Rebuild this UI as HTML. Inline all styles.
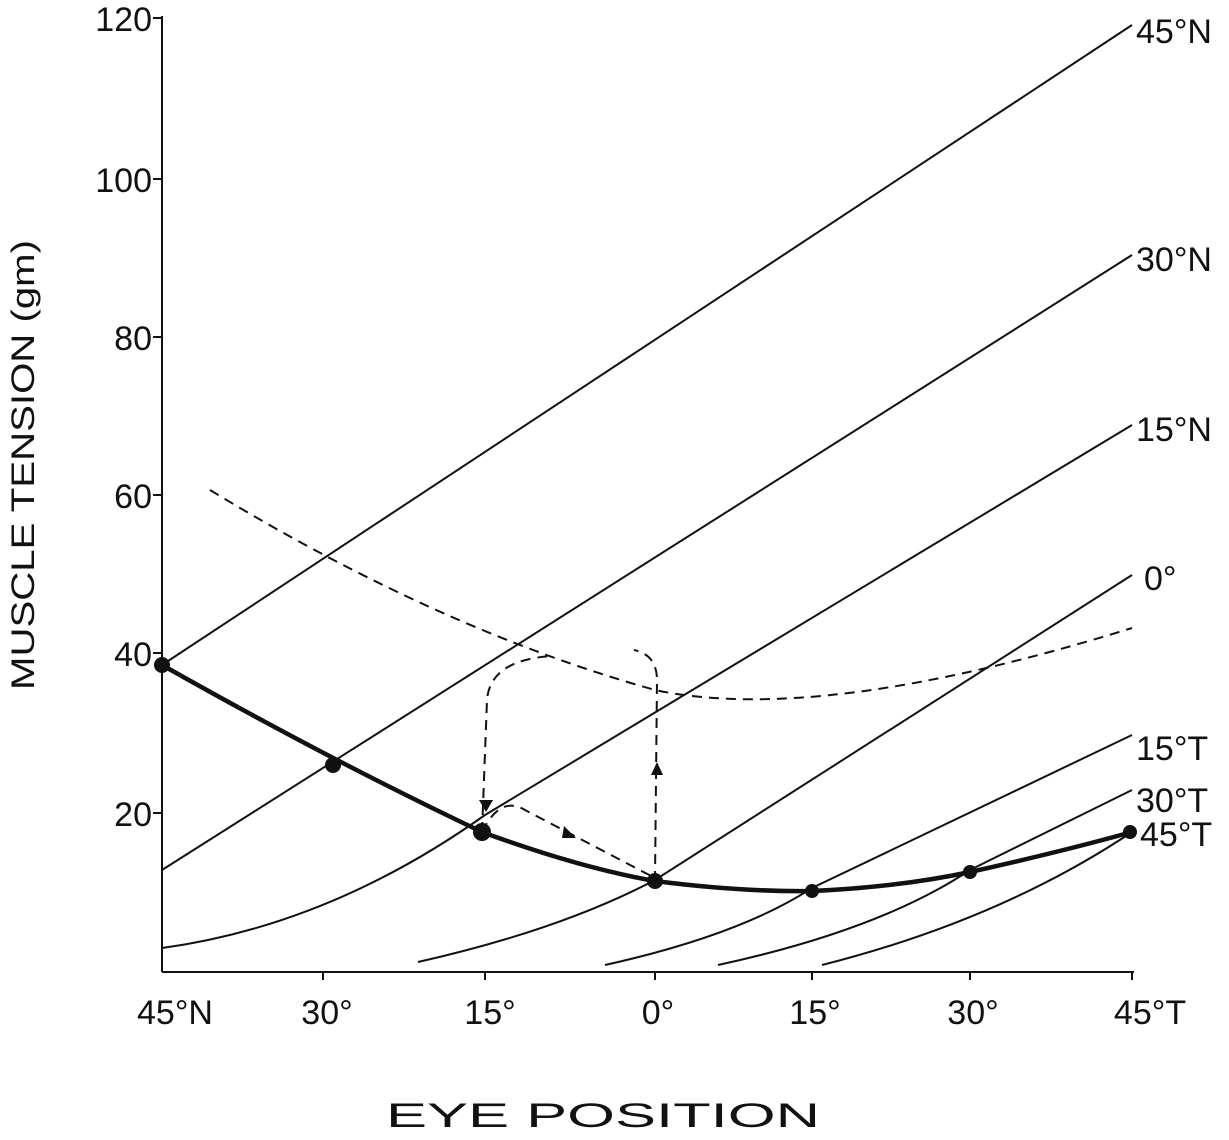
<!DOCTYPE html>
<html><head><style>body{margin:0;background:#fff}svg text{font-family:"Liberation Sans",sans-serif;fill:#111}</style></head>
<body>
<svg width="1229" height="1135" viewBox="0 0 1229 1135" xmlns="http://www.w3.org/2000/svg">
<g stroke="#111" fill="none" stroke-width="2">
<line x1="162" y1="16" x2="162" y2="972"/>
<line x1="162" y1="972" x2="1134" y2="972"/>
<g stroke-width="2">
<line x1="153" y1="18" x2="162" y2="18"/><line x1="153" y1="179" x2="162" y2="179"/><line x1="153" y1="337" x2="162" y2="337"/><line x1="153" y1="495" x2="162" y2="495"/><line x1="153" y1="653" x2="162" y2="653"/><line x1="153" y1="813" x2="162" y2="813"/>
<line x1="323" y1="972" x2="323" y2="980"/><line x1="485" y1="972" x2="485" y2="980"/><line x1="655" y1="972" x2="655" y2="980"/><line x1="812" y1="972" x2="812" y2="980"/><line x1="970" y1="972" x2="970" y2="980"/><line x1="1132" y1="972" x2="1132" y2="980"/>
</g>
<line x1="162" y1="665" x2="1132" y2="25"/>
<line x1="162" y1="870" x2="1132" y2="255"/>
<path d="M162 948 Q330 925 485 815 L1132 425"/>
<path d="M418 962 Q560 930 655 880 L1132 575"/>
<path d="M605 965 Q740 935 812 888 L1132 735"/>
<path d="M718 965 Q880 930 970 870 L1132 790"/>
<path d="M822 965 Q1000 920 1132 832"/>
<path d="M162 665 Q330 760 482 832 Q580 868 655 881 Q740 892 812 891 Q900 887 970 872 Q1060 852 1132 832" stroke-width="4.5"/>
<g stroke-dasharray="10,7">
<path d="M210 490 Q440 630 655 690 Q820 725 1132 628"/>
<path d="M482 832 L487 700 Q490 660 552 656"/>
<path d="M655 881 L657 680 Q657 655 634 650"/>
<path d="M482 832 Q500 795 525 810 L655 878"/>
</g>
</g>
<g fill="#111">
<circle cx="162" cy="665" r="8"/><circle cx="333" cy="765" r="8"/><circle cx="482" cy="832" r="9"/><circle cx="655" cy="881" r="8"/><circle cx="812" cy="891" r="7"/><circle cx="970" cy="872" r="7"/><circle cx="1130" cy="832" r="7"/>
<polygon points="479,800 493,800 486,812"/><polygon points="651,775 663,775 657,762"/><polygon points="564,826 576,838 562,838"/>
</g>
<g font-size="34" text-anchor="end">
<text x="152" y="31">120</text><text x="152" y="192">100</text><text x="152" y="350">80</text><text x="152" y="508">60</text><text x="152" y="666">40</text><text x="152" y="826">20</text>
</g>
<g font-size="34" text-anchor="middle">
<text x="175" y="1024">45°N</text><text x="327" y="1024">30°</text><text x="490" y="1024">15°</text><text x="658" y="1024">0°</text><text x="815" y="1024">15°</text><text x="973" y="1024">30°</text><text x="1150" y="1024">45°T</text>
</g>
<g font-size="34">
<text x="1136" y="43">45°N</text><text x="1136" y="271">30°N</text><text x="1136" y="441">15°N</text><text x="1144" y="590">0°</text><text x="1136" y="760">15°T</text><text x="1136" y="812">30°T</text><text x="1140" y="846">45°T</text>
</g>
<text x="386" y="1127" font-size="34" textLength="434" lengthAdjust="spacingAndGlyphs">EYE POSITION</text>
<text transform="translate(34,690) rotate(-90)" font-size="32" textLength="450" lengthAdjust="spacingAndGlyphs">MUSCLE TENSION (gm)</text>
</svg>
</body></html>
